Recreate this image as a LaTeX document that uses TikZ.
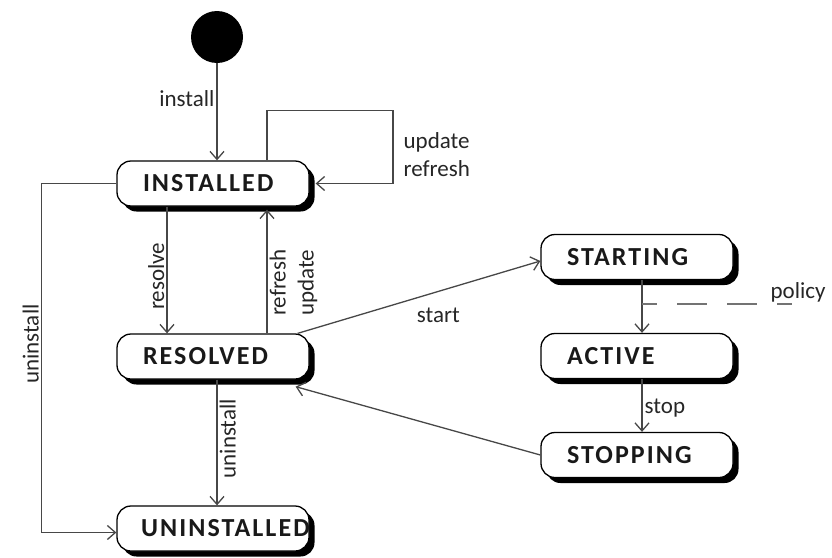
\documentclass[tikz,border=0pt]{standalone}
\usepackage{fontspec}
\setmainfont{Carlito}
\newfontfamily\statefont[LetterSpace=8]{Carlito}
\usetikzlibrary{arrows.meta,shadows}
\begin{document}
\begin{tikzpicture}[x=1pt,y=-1pt,
  state/.style={draw=black, line width=1.3pt, fill=white, rounded corners=14pt,
    minimum width=192pt, minimum height=45pt, text width=192pt, inner xsep=0pt, inner ysep=0pt,
    align=left, text=black!90, font=\statefont\bfseries\fontsize{26}{28}\selectfont,
    general shadow={fill=black, shadow xshift=5.5pt, shadow yshift=-5.5pt}},
  arr/.style={draw=black!72, line width=1.3pt, -{Straight Barb[length=8pt,width=14pt]}},
  dashl/.style={draw=black!55, line width=1.3pt, dash pattern=on 30pt off 20pt, dash phase=15pt},
  lbl/.style={font=\fontsize{23}{28}\selectfont, text=black!85, inner sep=2pt},
]
\useasboundingbox (0,0) rectangle (832,557);

\node[circle, fill=black, minimum size=52pt, inner sep=0pt] (init) at (217,37) {};

\node[state] (inst)   at (213,183.5) {\hspace*{26pt}INSTALLED};
\node[state] (res)    at (213,356.5) {\hspace*{26pt}RESOLVED};
\node[state] (uninst) at (213,528.5) {\hspace*{24pt}UNINSTALLED};
\node[state] (starting) at (637,257) {\hspace*{26pt}STARTING};
\node[state] (active)   at (637,356) {\hspace*{26pt}ACTIVE};
\node[state] (stopping) at (637,455) {\hspace*{26pt}STOPPING};

% install
\draw[arr] (init) -- node[lbl, left, pos=0.36] (linstall) {install} (init |- inst.north);

% self loop
\draw[arr] ([xshift=54pt]inst.north) -- ++(0,-50) -- ++(126,0)
  |- node[lbl, pos=0.3, right, align=left, xshift=8pt] (lupd) {update\\refresh} ([xshift=6pt]inst.east);

% resolve
\draw[arr] ([xshift=-46pt]inst.south) --
  node[lbl, pos=0.55, rotate=90, anchor=south] (lres) {resolve} ([xshift=-46pt]res.north);

% refresh / update
\draw[arr] ([xshift=54pt]res.north) --
  node[lbl, pos=0.41, rotate=90, anchor=north, align=center] (lref) {refresh\\update} ([xshift=54pt,yshift=-3pt]inst.south);

% uninstall (middle)
\draw[arr] ([xshift=4pt]res.south) --
  node[lbl, pos=0.47, rotate=90, anchor=north] (lun1) {uninstall} ([xshift=4pt]uninst.north);

% uninstall (left)
\draw[arr] (inst.west) -- ++(-75,0)
  |- node[lbl, pos=0.23, rotate=90, anchor=south] (lun2) {uninstall} ([yshift=-4pt]uninst.west);

% start
\draw[arr] ([xshift=-12pt]res.north east) --
  node[lbl, pos=0.58, below=14pt] (lstart) {start} ([yshift=-4pt]starting.west);

% stopping -> resolved
\draw[arr] (stopping.west) -- ([xshift=-14pt,yshift=-7pt]res.south east);

% starting -> active
\draw[arr] ([xshift=5pt]starting.south) -- coordinate[pos=0.45] (pa) ([xshift=5pt]active.north);
\draw[dashl] (pa) -- ++(150,0);
\node[lbl] (policy) at (798,292) {policy};

% active -> stopping
\draw[arr] ([xshift=5pt]active.south) --
  node[lbl, pos=0.55, right] (lstop) {stop} ([xshift=5pt]stopping.north);
\end{tikzpicture}
\end{document}
